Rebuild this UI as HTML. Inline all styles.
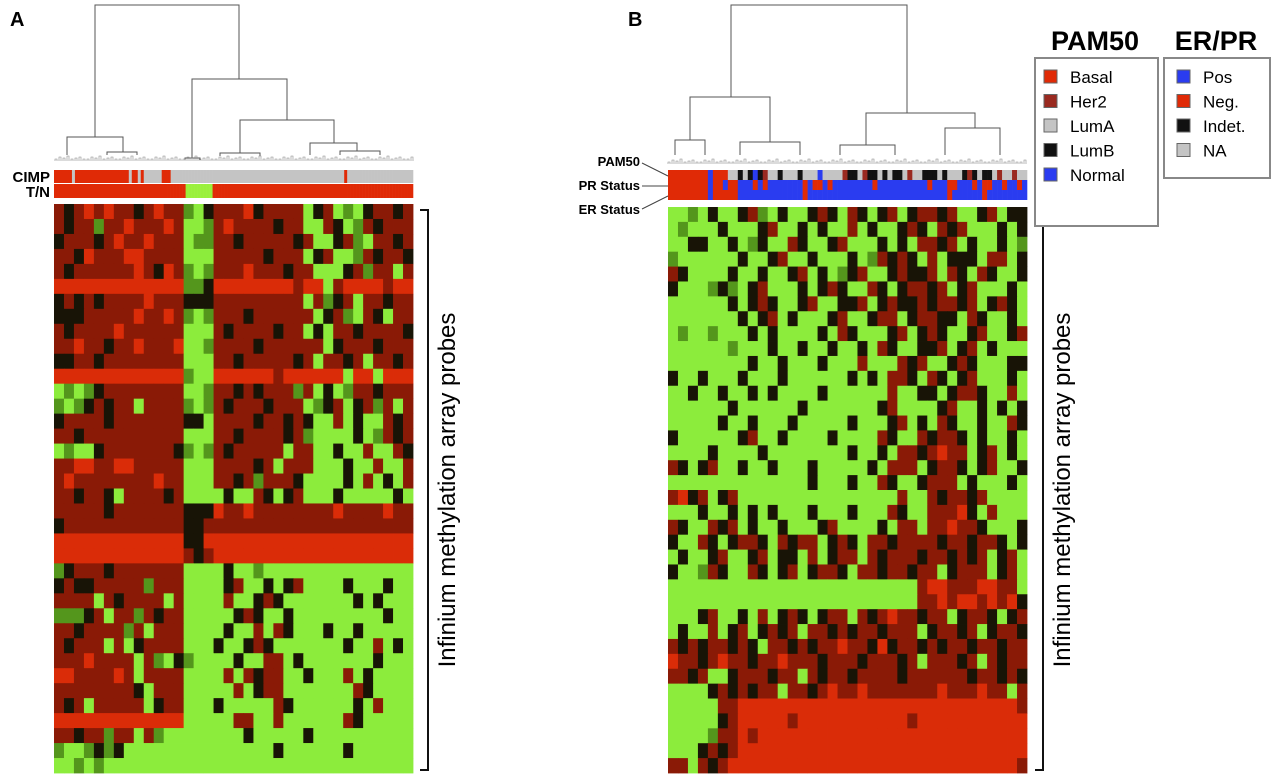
<!DOCTYPE html>
<html><head><meta charset="utf-8">
<style>
body{margin:0;background:#fff;width:1280px;height:779px;overflow:hidden;font-family:"Liberation Sans",sans-serif}
svg{display:block}
</style></head><body>
<svg id="fig" width="1280" height="779" viewBox="0 0 1280 779">
<g id="static">
<text x="10" y="26" font-size="20" font-weight="bold">A</text>
<text x="628" y="26" font-size="20" font-weight="bold">B</text>
<text x="50" y="182" font-size="15" font-weight="bold" text-anchor="end">CIMP</text>
<text x="50" y="197" font-size="15" font-weight="bold" text-anchor="end">T/N</text>
<text x="640" y="166" font-size="13" font-weight="bold" text-anchor="end">PAM50</text>
<text x="640" y="190" font-size="13" font-weight="bold" text-anchor="end">PR Status</text>
<text x="640" y="214" font-size="13" font-weight="bold" text-anchor="end">ER Status</text>
<g stroke="#444" stroke-width="1" fill="none">
<path d="M642 163 L668 176"/><path d="M642 186 L668 186"/><path d="M642 209 L668 196"/>
</g>
<g stroke="#111" stroke-width="2" fill="none"><path d="M420 210 H428 V770 H420"/></g>
<text transform="translate(455,490) rotate(-90)" font-size="24" text-anchor="middle">Infinium methylation array probes</text>
<g stroke="#111" stroke-width="2" fill="none"><path d="M1035 210 H1043 V770 H1035"/></g>
<text transform="translate(1070,490) rotate(-90)" font-size="24" text-anchor="middle">Infinium methylation array probes</text>
<g>
<text x="1095" y="50" font-size="27" font-weight="bold" text-anchor="middle">PAM50</text>
<rect x="1035" y="58" width="123" height="168" fill="#fff" stroke="#888" stroke-width="2"/>
</g>
<g>
<text x="1216" y="50" font-size="27" font-weight="bold" text-anchor="middle">ER/PR</text>
<rect x="1164" y="58" width="106" height="120" fill="#fff" stroke="#888" stroke-width="2"/>
</g>
</g>
<g id="dyn"></g>
</svg>
<script>
const heatA = [
"rkrRrRrrkrRrrgGkrrrRkrrrrGkrGgGkrrkr",
"rkrrgrrRrrrRrGGgrRrrrrkrrGGrkGgrkrrr",
"krrrkrRrrRrrrGggrrkrrrrrkrGGkrgGrrkr",
"rrkRrrrRRrrrrGGGrrrrrkrrrGkrGGgrkrrk",
"rkrrrrrrRrkRrgGgrrrRrrrkrrGGGkrgrrGr",
"RRRRRRRRRRRRRggkRRRRRRRRrRRGrRRRRrRR",
"krkrkrrrrRrrrkkkrrrrrrrrrGrgkrGrrkrr",
"kkkrrrrrRrrRrgGgrrrkrrrrrrGkrgGrkGrr",
"rkrrrrRrrrrrrGGGrkrrrrkrrGkGrrkrrrrk",
"rrRrrkrrRrrrRGGgrrrrkrrrrrrGkrrrkrrr",
"kkrrkrrrrrrrrGGGrrkrrrrrkrGrrkrGrrkr",
"RRRRRRRRRRRRRgGGRRRRRRrRRRRRRGRRGRRR",
"GgGgkrrrrrrrrGGgrrkrkrrrgrGkGgrrkrrr",
"gGgkrkrrGrrrrgGgrkrrrkrrrGgkrGkrgrGr",
"krrrrkrrrrrrrkkGrrrrkrrkrkGGrGkGGrkr",
"rrkrrrrrrrrrrGGGrrkrrrrkrgGGGGkGgrkr",
"GgGGkrrrrrrrkgGgrkrrrrrGrrGGkGGrGGrk",
"rrRRrrRRrrrrrGGGrrrrkrGrrrGGGkGGrGGr",
"rRrrrrrrrrRrrGGGrrkrgrrrkGGGGkGrGkGr",
"rrkrrkGrrrrkrGGGGkGGrkGkrGGGkGGGGGkG",
"rrrrrkrrrrrrrkkkRrrRrrrrrrrrRrrrrRrr",
"krrrrrrrrrrrrkkrrrrrrrrrrrrrrrrrrrrr",
"RRRRRRRRRRRRRkkRRRRRRRRRRRRRRRRRRRRR",
"RRRRRRRRRRRRRrkrRRRRRRRRRRRRRRRRRRRR",
"gkrrrkrrrrrrrGGGGkGGgGGGGGGGGGGGGGGG",
"krkkrrrrrgrrrGGGGkrGGkGkrGGGGkGGGkGG",
"rrrrGrkrrrrGrGGGGrGGkrkGGGGGGGkGkGGG",
"gggkrGrrgrkrrGGGGGkrkGGkGGGGGGGGGkGG",
"rrkrrrrgrGrrrGGGGkGGrGrkGGGkGGkGGGGG",
"rkrrrGrGkrrrrGGGkGGkrkGGGGGGGkGGrGkG",
"rrrRrrrrGrgGkgGGGGkGGrrGkGGGGGGGkGGG",
"RRrrrrRrGrrrrGGGGrGrkrrGGkGGGrGkGGGG",
"rrrrrrrrkGrrrGGGGGrGkrrGGGGGGGrkGGGG",
"rkrGrrrrrGkrrGGGkGGGGGrkGGGGGGkGrGGG",
"RRRRRRRRRRRRRGGGGGrrGGrGGGGGGrkGGGGG",
"rrkrrgrrGrgGGGGGGGGkGGGGGkGGGGGGGGGG",
"gGGgkgkGGGGGGGGGGGGGGGkGGGGGGkGGGGGG",
"GGgGgGGGGGGGGGGGGGGGGGGGGGGGGGGGGGGG"
];
const heatB = [
"GGgGkGGkrgGkGGkrkGrkGkrGkrrkrGGkrGkk",
"GgGGGkGGGkrGGkGkGGrGkGGkrkGrkrGGGkGk",
"GGkkGGkGgkGGrkGGkrGGGkGkGrrkrGkGGkGg",
"gGGGGGGkGGkrGGkGGGkGgrkrkGrGkkkGrrGk",
"rkGGGGkGGkGGkrGkGgkrGGkrkkrGrkGrkGGk",
"kGGGgkgGkrGGGkGkrkGGrkGkrrkrGkrGGGkG",
"GGGGGGkGkrkGGkrGGkkrGkrkkrkrrkrGkrkG",
"GGGGGGGkGkrGkGGGkrGGkrrGkrrkkGrkGGkG",
"GgGGgGGGkGkGGGGkGrkGGGkrGkrkGGkrGGkr",
"GGGGGGgGGGkGGkGGkGGkGrkGGkkrGkrGkGGG",
"GGGGGGGGkGGkGGGkGGGrGGGrkrGGkrkGGGkk",
"kGGkGGGkGGGkGGGGGGkGkGrrkGrkGkrGGGkG",
"GGkGGkGGkGkGGGGkGGGGGGrGGkkGkrrkGGrG",
"GGGGGGkGGGGGGkGGGGGGGkrGGGGkrGGkGkGk",
"GGGGGkGGkGGGkGGGGGkGGGkrGkGrkGGkGGrk",
"kGGGGGGkrGGkGGGGkGGGGrkGGrkrrkGkGGkG",
"GGGGkGGGGkGGGGGGGGkGGkGrrkrRrrGkrGkG",
"rkGkrGGkGGkGGGkGGGGGkGrrrGkrrkGkrGGk",
"GGGGGGGGGGGGGGkGGGkGGrkGGkrrrGkGGGkG",
"rRkrGkrGGGGGGGGGGGGGGGGrGGrkrrkrGGGG",
"GGGkGGkGkGkGGGkGGGkGGGrkGGrrrRkGrGGG",
"rkGGrkrGkGGkGGGkrGGGGkGrrGrrRrrkGGGk",
"kGGrkGkrrkGrkrrGkrkGrrkrrrrkrrkrrkGk",
"GkGGkrGGkrGkkGrGkrrGrkrrrkrrkrkrGkrG",
"kGGgrkGGrkGkrGkrrkGrrkrrkrrGkrrrGkrG",
"GGGGGGGGGGGGGGGGGGGGGGGGGrRRrrrRRrrG",
"GGGGGGGGGGGGGGGGGGGGGGGGGrrRrRRrRrRk",
"GGGkrGGkGrGkrkGkrrGrkrRrrkrrGkrrkGkr",
"GkGGrGkrGkrkrGrrkrkrrkrrrGkrrkrGkrrk",
"rkrkrrkrkGrrkrkrrRrrkRkrrkrkrrkrrkrr",
"RrrkrRrrkrrRrrrkrrrkrrrkrGrrrkrGrkrr",
"rrkrGGkrrrkrrGrkrrkrrrrkrrrrrrkrrkrk",
"GGGGkrkrkrrGrrkrRrrRrrrrrrrRrrrRrrGr",
"GGGGGrrRRRRRRRRRRRRRRRRRRRRRRRRRRRRr",
"GGGGGkrRRRRRrRRRRRRRRRRRrRRRRRRRRRRR",
"GGGGgrrRrRRRRRRRRRRRRRRRRRRRRRRRRRRR",
"GGGkrkrRRRRRRRRRRRRRRRRRRRRRRRRRRRRR",
"rrGrkrRRRRRRRRRRRRRRRRRRRRRRRRRRRRRr"
];
const cimpA = "CCCCCC-CCCCCCCCCCCCCCCCCC-CC-C------CCC" + "-".repeat(58) + "C" + "-".repeat(22);
const tnA = "T".repeat(44) + "N".repeat(9) + "T".repeat(67);
const pam50B = "BBBBBBBBNBBBAALALNLHAALAAALAAANAAAAHLLAHLLALALLAHAALLLALAAALHLALLAHAAHAA";
const prB = "NNNNNNNNPNNPNNPPPNPNPPPPPPPNPNNPNPPPPPPPPNPPPPPPPPPPNPPPNNPPPNPNNPPNPPNP";
const erB = "NNNNNNNNPNNNNNPPPPPPPPPPPPPNPPPPPPPPPPPPPPPPPPPPPPPPPPPPNPPPPPPNPPPPPPPP";
const heatLevels = {R:2, r:1, k:0, g:-1, G:-2};
const pamLegend = ["Basal","Her2","LumA","LumB","Normal"];
const erprLegend = ["Pos","Neg.","Indet.","NA"];

const NS = "http://www.w3.org/2000/svg";
const dyn = document.getElementById('dyn');
function mk(tag, attrs, parent){const e=document.createElementNS(NS,tag);for(const k in attrs)e.setAttribute(k,attrs[k]);(parent||dyn).appendChild(e);return e;}
function heatColor(v){
  if(v>=2) return "rgb(218,44,8)";
  if(v>=1) return "rgb(138,26,6)";
  if(v<=-2) return "rgb(140,236,60)";
  if(v<=-1) return "rgb(84,150,28)";
  return "rgb(24,20,6)";
}
function drawHeat(rows, x0, y0, w, h, name){
  const g = mk('g',{});
  
  
  const nr = rows.length, nc = rows[0].length;
  const cw = w/nc, ch = h/nr;
  rows.forEach((row, i)=>{
    for(let j=0;j<nc;j++){
      const v = heatLevels[row[j]];
      const r = mk('rect',{x:(x0+j*cw).toFixed(2), y:(y0+i*ch).toFixed(2), width:(cw+0.4).toFixed(2), height:(ch+0.4).toFixed(2), fill:heatColor(v)}, g);
      
      
    }
  });
}
function drawBar(str, colors, x0, y0, w, h, name){
  const g = mk('g',{});
  
  
  const cw = w/str.length;
  for(let j=0;j<str.length;j++){
    const r = mk('rect',{x:(x0+j*cw).toFixed(2), y:y0, width:(cw+0.3).toFixed(2), height:h, fill:colors[str[j]]}, g);
    
    
  }
}
drawHeat(heatA, 54, 204, 359, 569, 'heatmap-a');
drawHeat(heatB, 668, 207, 359, 566, 'heatmap-b');
drawBar(cimpA, {C:"#e02a06","-":"#c4c4c4"}, 54, 170, 359, 13, 'cimp-bar');
drawBar(tnA, {T:"#e02a06",N:"#9af03c"}, 54, 184, 359, 14, 'tumor-normal-bar');
const pamCol = {B:"#e02a06",H:"#9a2a20",A:"#c4c4c4",L:"#111",N:"#2a3cf0"};
const erCol = {P:"#2a3cf0",N:"#e02a06",I:"#111"};
drawBar(pam50B, pamCol, 668, 170, 359, 10, 'pam50-bar');
drawBar(prB, erCol, 668, 180, 359, 10, 'pr-status-bar');
drawBar(erB, erCol, 668, 190, 359, 10, 'er-status-bar');

function dendro(paths, leafX0, leafX1, leafY, name){
  const g = mk('g',{stroke:"#555","stroke-width":1,fill:"none"});
  
  
  const p = mk('path',{d:paths}, g);
  
  
  let d="";
  const hs=[2,4,3,5,2,3,4,2];
  let k=0;
  for(let x=leafX0;x<leafX1;x+=4){const hh=hs[k++%hs.length];d+=`M${x} ${leafY} V${leafY-hh} H${x+2} V${leafY} `;}
  const lp = mk('path',{d:d,"stroke-width":0.6,stroke:"#888"}, g);
  
  
}
dendro("M95 137 V5 H239 V79 M67 155 V137 H123 V152 M107 155 V152 H137 V155 M192 158 V79 H287 V120 M185 160 V158 H200 V160 M240 153 V120 H334 V143 M220 156 V153 H260 V156 M310 155 V143 H357 V151 M340 155 V151 H380 V155",
  55, 413, 161, 'dendrogram-a');
dendro("M731 97 V5 H907 V113 M690 140 V97 H770 V142 M675 155 V140 H705 V155 M740 155 V142 H800 V155 M866 145 V113 H975 V128 M840 155 V145 H895 V155 M945 155 V128 H1000 V155",
  668, 1027, 164, 'dendrogram-b');

pamLegend.forEach((t,i)=>{
  const y = 77 + i*24.5;
  const c = [pamCol.B,pamCol.H,pamCol.A,pamCol.L,pamCol.N][i];
  const r = mk('rect',{x:1044,y:y-7,width:13,height:13,fill:c,stroke:"#666","stroke-width":1});
  
  
  const tx = mk('text',{x:1070,y:y+6,"font-size":17});
  tx.textContent = t;
  
  
});
erprLegend.forEach((t,i)=>{
  const y = 77 + i*24.5;
  const c = ["#2a3cf0","#e02a06","#111","#c4c4c4"][i];
  const r = mk('rect',{x:1177,y:y-7,width:13,height:13,fill:c,stroke:"#666","stroke-width":1});
  
  
  const tx = mk('text',{x:1203,y:y+6,"font-size":17});
  tx.textContent = t;
  
  
});
</script>
</body></html>
